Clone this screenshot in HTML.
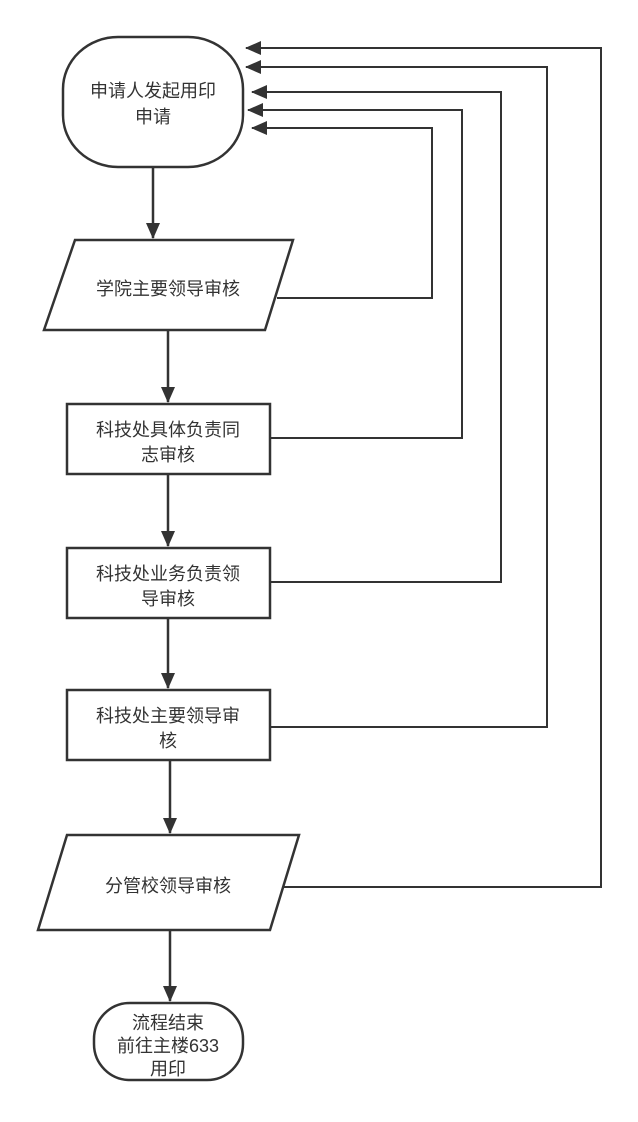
<!DOCTYPE html>
<html><head><meta charset="utf-8"><style>
html,body{margin:0;padding:0;background:#fff;}
svg text{font-family:"Liberation Sans","Noto Sans CJK SC",sans-serif;font-size:18px;fill:#333;text-anchor:middle;}
</style></head><body>
<svg width="638" height="1117" viewBox="0 0 638 1117" xmlns="http://www.w3.org/2000/svg">
<defs><marker id="b" markerWidth="16" markerHeight="14" refX="15" refY="7" orient="auto" markerUnits="userSpaceOnUse"><path d="M0,0 L16,7 L0,14 z" fill="#333"/></marker></defs>
<g fill="none" stroke="#333" stroke-width="2.5">
<rect x="63" y="37" width="180" height="130" rx="55" ry="52" fill="#fff"/>
<polygon points="75,240 293,240 265,330 44,330" fill="#fff"/>
<rect x="67" y="404" width="203" height="70" fill="#fff"/>
<rect x="67" y="548" width="203" height="70" fill="#fff"/>
<rect x="67" y="690" width="203" height="70" fill="#fff"/>
<polygon points="67,835 299,835 270,930 38,930" fill="#fff"/>
<rect x="94" y="1003" width="149" height="77" rx="36" ry="36" fill="#fff"/>
<g marker-end="url(#b)">
<line x1="153" y1="167" x2="153" y2="238"/>
<line x1="168" y1="330" x2="168" y2="402"/>
<line x1="168" y1="474" x2="168" y2="546"/>
<line x1="168" y1="618" x2="168" y2="688"/>
<line x1="170" y1="760" x2="170" y2="833"/>
<line x1="170" y1="930" x2="170" y2="1001"/>
</g>
<g stroke-width="2" marker-end="url(#b)">
<polyline points="277,298 432,298 432,128 252,128"/>
<polyline points="270,438 462,438 462,110 248,110"/>
<polyline points="270,582 501,582 501,92 252,92"/>
<polyline points="270,727 547,727 547,67 246,67"/>
<polyline points="283,887 601,887 601,48 246,48"/>
</g>
</g>
<text x="153" y="97">申请人发起用印</text>
<text x="153" y="123">申请</text>
<text x="168" y="295">学院主要领导审核</text>
<text x="168" y="436">科技处具体负责同</text>
<text x="168" y="461">志审核</text>
<text x="168" y="580">科技处业务负责领</text>
<text x="168" y="605">导审核</text>
<text x="168" y="722">科技处主要领导审</text>
<text x="168" y="747">核</text>
<text x="168" y="892">分管校领导审核</text>
<text x="168" y="1029">流程结束</text>
<text x="168" y="1052">前往主楼633</text>
<text x="168" y="1075">用印</text>
</svg>
</body></html>
